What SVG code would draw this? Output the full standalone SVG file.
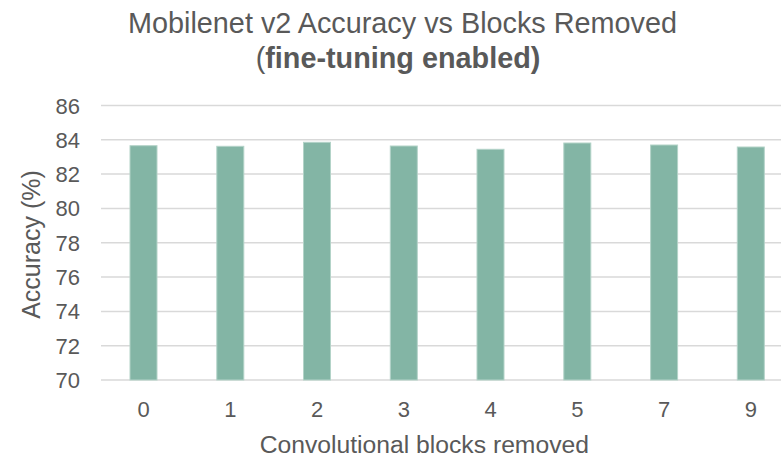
<svg xmlns="http://www.w3.org/2000/svg" width="781" height="457" viewBox="0 0 781 457">
<style>
text{font-family:"Liberation Sans",Arial,sans-serif;fill:#595959}
.grid{stroke:#D9D9D9;stroke-width:1.5}
.bar{fill:#83B5A5;stroke:#B3D3C8;stroke-width:1}
.tick{font-size:22px;text-anchor:end}
.xt{font-size:22px;text-anchor:middle}
</style>
<rect width="781" height="457" fill="#FFFFFF"/>
<g id="title">
<text x="402.5" y="33" font-size="28.8" text-anchor="middle">Mobilenet v2 Accuracy vs Blocks Removed</text>
<text x="398" y="68" font-size="28.8" text-anchor="middle">(<tspan font-weight="bold">fine-tuning enabled)</tspan></text>
</g>
<g id="gridlines">
<line class="grid" x1="101" y1="105.5" x2="781" y2="105.5"/>
<line class="grid" x1="101" y1="139.8" x2="781" y2="139.8"/>
<line class="grid" x1="101" y1="174.1" x2="781" y2="174.1"/>
<line class="grid" x1="101" y1="208.4" x2="781" y2="208.4"/>
<line class="grid" x1="101" y1="242.8" x2="781" y2="242.8"/>
<line class="grid" x1="101" y1="277.1" x2="781" y2="277.1"/>
<line class="grid" x1="101" y1="311.4" x2="781" y2="311.4"/>
<line class="grid" x1="101" y1="345.7" x2="781" y2="345.7"/>
<line class="grid" x1="101" y1="380" x2="781" y2="380"/>
</g>
<g id="y-ticks">
<text class="tick" x="80" y="113.5">86</text>
<text class="tick" x="80" y="147.8">84</text>
<text class="tick" x="80" y="182.1">82</text>
<text class="tick" x="80" y="216.4">80</text>
<text class="tick" x="80" y="250.8">78</text>
<text class="tick" x="80" y="285.1">76</text>
<text class="tick" x="80" y="319.4">74</text>
<text class="tick" x="80" y="353.7">72</text>
<text class="tick" x="80" y="388">70</text>
</g>
<g id="bars">
<rect class="bar" x="130" y="145.7" width="27" height="234.3"/>
<rect class="bar" x="216.8" y="146.3" width="27" height="233.7"/>
<rect class="bar" x="303.5" y="142.3" width="27" height="237.7"/>
<rect class="bar" x="390.3" y="146" width="27" height="234"/>
<rect class="bar" x="477" y="149.3" width="27" height="230.7"/>
<rect class="bar" x="563.8" y="143" width="27" height="237"/>
<rect class="bar" x="650.6" y="145" width="27" height="235"/>
<rect class="bar" x="737.3" y="147" width="27" height="233"/>
</g>
<g id="x-ticks">
<text class="xt" x="143.5" y="417">0</text>
<text class="xt" x="230.3" y="417">1</text>
<text class="xt" x="317" y="417">2</text>
<text class="xt" x="403.8" y="417">3</text>
<text class="xt" x="490.5" y="417">4</text>
<text class="xt" x="577.3" y="417">5</text>
<text class="xt" x="664.1" y="417">7</text>
<text class="xt" x="750.8" y="417">9</text>
</g>
<g id="axis-titles">
<text x="424.3" y="453" font-size="24.7" text-anchor="middle">Convolutional blocks removed</text>
<text transform="translate(40,244.5) rotate(-90)" font-size="25" text-anchor="middle">Accuracy (%)</text>
</g>
</svg>
